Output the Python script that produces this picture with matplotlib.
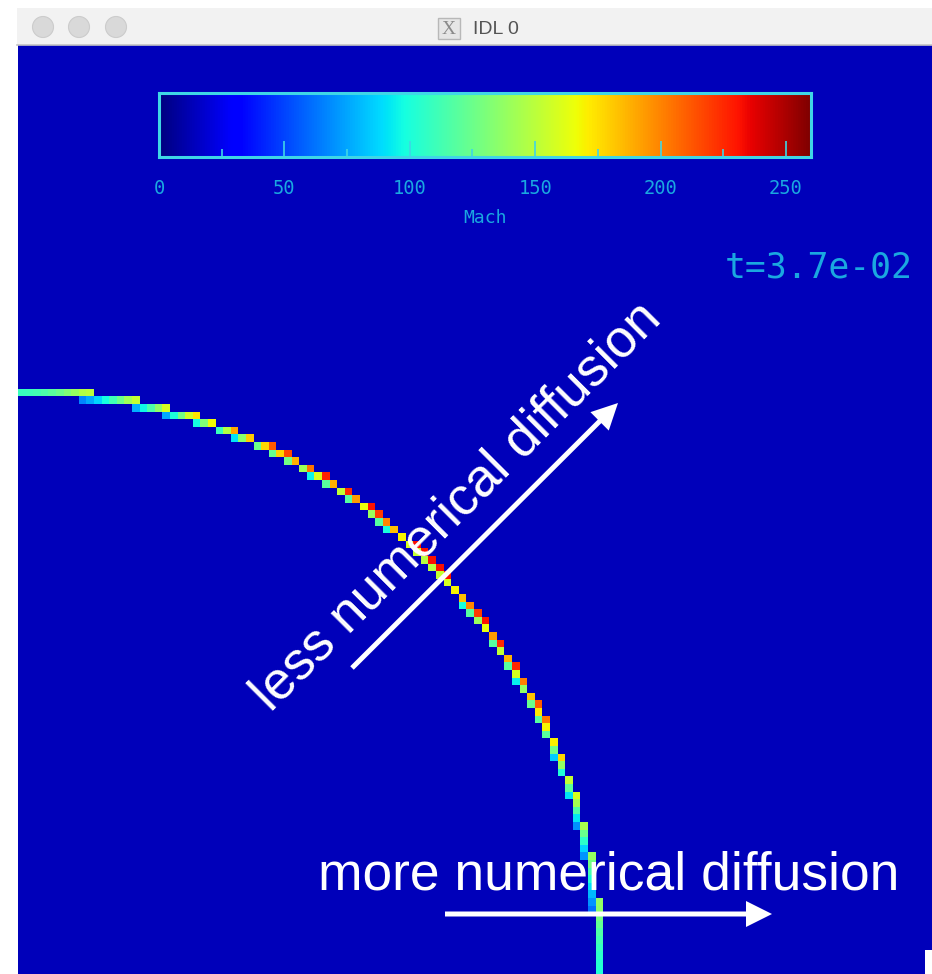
import numpy as np
import matplotlib
matplotlib.use("Agg")
import matplotlib.pyplot as plt
from matplotlib.patches import Rectangle, Circle, FancyArrow

# ---------------------------------------------------------------------------
# Simulation snapshot: Mach number on a uniform 128x128 grid (one quadrant)
# ---------------------------------------------------------------------------
n_cells = 128
domain_size = 1.0
shock_radius = 0.599
background_mach = 14.0

# Peak Mach number reached in the shock-front cells, sampled by polar angle
shock_angle_deg = [0, 5, 10, 15, 20, 25, 30, 35, 40, 45,
                   50, 55, 60, 65, 70, 75, 80, 85, 90]
shock_peak_mach = [140, 140, 135, 145, 170, 200, 222, 230, 232, 232,
                   232, 230, 225, 210, 185, 160, 150, 150, 150]

mach_min, mach_max = 0, 260
cbar_major = [0, 50, 100, 150, 200, 250]
cbar_minor = [25, 75, 125, 175, 225]
cbar_label = "Mach"
time_label = "t=3.7e-02"
window_title = "IDL 0"
note_less = "less numerical diffusion"
note_more = "more numerical diffusion"

# ---------------------------------------------------------------------------
# Build the cell field
# ---------------------------------------------------------------------------
dx = domain_size / n_cells
xc = (np.arange(n_cells) + 0.5) * dx
X, Y = np.meshgrid(xc, xc)
r = np.hypot(X, Y)
theta = np.degrees(np.arctan2(Y, X))
d = (r - shock_radius) / dx                      # distance from front, in cells
peak = np.interp(theta, shock_angle_deg, shock_peak_mach)
ramp = np.clip(0.8 + 0.6 * d, 0.0, 1.0)
front = np.where((d >= -0.7) & (d <= 0.5), ramp, 0.0)
mach = background_mach + (peak - background_mach) * front

# ---------------------------------------------------------------------------
# Figure (pixel-based layout)
# ---------------------------------------------------------------------------
W, H = 932, 974
fig = plt.figure(figsize=(W / 100, H / 100), dpi=100, facecolor="white")


def px_axes(x0, y0, x1, y1, z):
    return fig.add_axes([x0 / W, 1 - y1 / H, (x1 - x0) / W, (y1 - y0) / H], zorder=z)


px_per_unit = 7.6 * n_cells
img_left, img_top, img_right, img_bottom = 18, 45, W, H
ax = px_axes(img_left, img_top, img_right, img_bottom, 1)
ax.imshow(mach, origin="lower", extent=(0, domain_size, 0, domain_size),
          cmap="jet", vmin=mach_min, vmax=mach_max, interpolation="nearest",
          aspect="auto")
ax.set_xlim(0, (img_right - img_left) / px_per_unit)
ax.set_ylim(0, (img_bottom - img_top) / px_per_unit)
ax.axis("off")

# Colour bar
idl_cyan = "#3fd6e6"
label_cyan = "#1aa8e0"
cax = px_axes(159, 93, 811, 157, 2)
grad = np.linspace(mach_min, mach_max, 512)[None, :]
cax.imshow(grad, extent=(mach_min, mach_max, 0, 1), cmap="jet",
           vmin=mach_min, vmax=mach_max, aspect="auto")
cax.set_xlim(mach_min, mach_max)
cax.set_ylim(0, 1)
cax.set_yticks([])
for s in cax.spines.values():
    s.set_color(idl_cyan)
    s.set_linewidth(2.2)
cax.set_xticks(cbar_major)
cax.set_xticklabels([str(v) for v in cbar_major], family="DejaVu Sans Mono",
                    fontsize=13.5)
cax.set_xticks(cbar_minor, minor=True)
cax.tick_params(axis="x", which="major", direction="in", length=11.5, width=1.2,
                color=idl_cyan, labelcolor=label_cyan, pad=16)
cax.tick_params(axis="x", which="minor", direction="in", length=5.8, width=1.2,
                color=idl_cyan)
cax.set_xlabel(cbar_label, color=label_cyan, family="DejaVu Sans Mono",
               fontsize=13, labelpad=8)

# Overlay in pixel coordinates
ov = px_axes(0, 0, W, H, 3)
ov.set_xlim(0, W)
ov.set_ylim(H, 0)
ov.axis("off")
ov.patch.set_alpha(0)

# Window frame
ov.add_patch(Rectangle((0, 0), 18, H, facecolor="white", edgecolor="none"))
ov.add_patch(Rectangle((0, 0), W, 8, facecolor="white", edgecolor="none"))
ov.add_patch(Rectangle((17, 8), W - 17, 37, facecolor="#f2f2f2", edgecolor="none"))
ov.plot([17, W], [45, 45], color="#c4c4c4", lw=1.2)
for cx in (43, 79, 116):
    ov.add_patch(Circle((cx, 27), 10.5, facecolor="#d9d9d9", edgecolor="#cccccc", lw=0.8))
ov.add_patch(Rectangle((438, 18), 22, 21, facecolor="#e6e6e6", edgecolor="#b8b8b8", lw=1))
ov.text(449, 29, "X", ha="center", va="center", color="#8a8a8a",
        fontsize=14, family="Liberation Serif")
ov.text(473, 29, window_title, ha="left", va="center", color="#555555",
        fontsize=14, family="Liberation Sans")
ov.add_patch(Rectangle((925, 950), 7, 24, facecolor="white", edgecolor="none"))

# Time stamp
ov.text(913, 268, time_label, ha="right", va="center", color=label_cyan,
        fontsize=25, family="DejaVu Sans Mono")

# Annotations
ov.text(467, 517, note_less, rotation=45, rotation_mode="anchor",
        ha="center", va="baseline", color="white", fontsize=38.4,
        family="Liberation Sans")
ov.add_patch(FancyArrow(352, 668, 618 - 352, 403 - 668, width=5, head_width=26,
                        head_length=26, length_includes_head=True,
                        color="white", lw=0))
ov.text(608.5, 889, note_more, ha="center", va="baseline", color="white",
        fontsize=38.4, family="Liberation Sans")
ov.add_patch(FancyArrow(445, 914, 772 - 445, 0, width=5, head_width=26,
                        head_length=26, length_includes_head=True,
                        color="white", lw=0))

fig.savefig("out.png", dpi=100, facecolor="white")
